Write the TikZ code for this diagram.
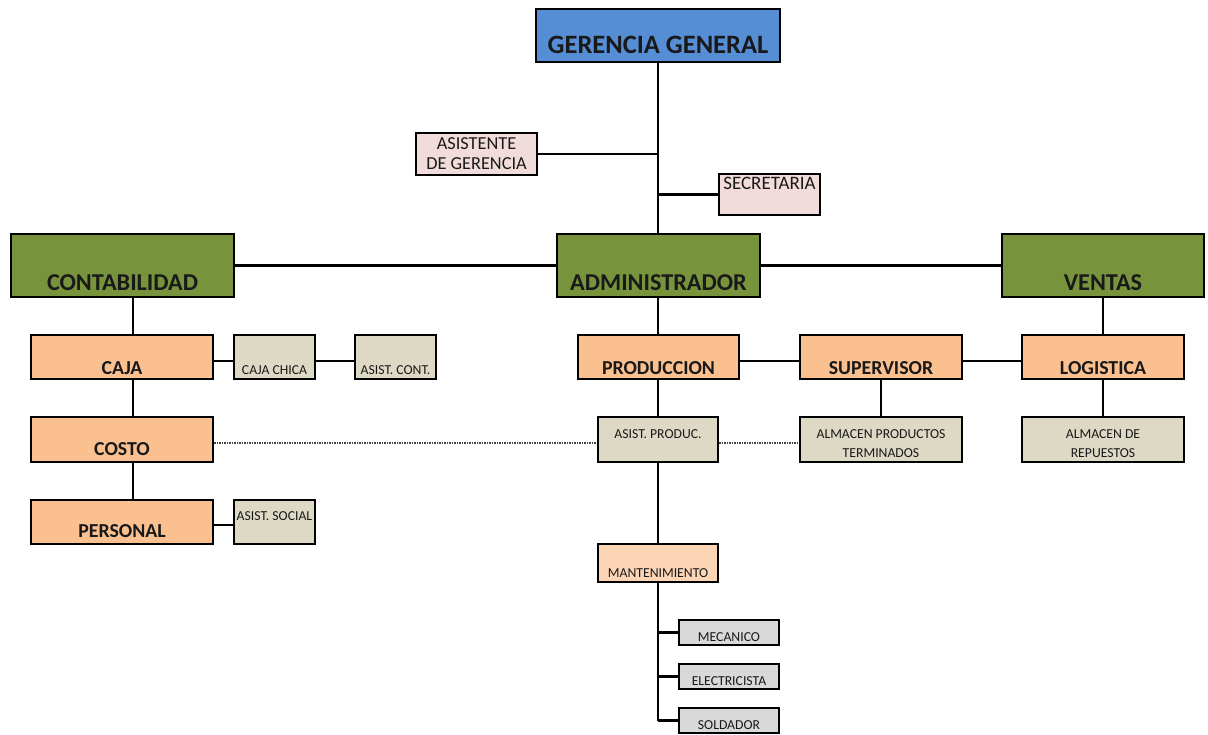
\documentclass[tikz,border=0pt]{standalone}
\usepackage{fontspec}
\setmainfont{Carlito}
\definecolor{cblue}{HTML}{558ED5}
\definecolor{cpink}{HTML}{F2DCDB}
\definecolor{cgreen}{HTML}{77933C}
\definecolor{corange}{HTML}{FAC090}
\definecolor{ctan}{HTML}{DDD9C4}
\definecolor{clight}{HTML}{FCD5B5}
\definecolor{cgray}{HTML}{D9D9D9}
\tikzset{
  box/.style={draw=black, line width=2.8pt, inner sep=0pt, rectangle},
  sbox/.style={draw=black, line width=2.3pt, inner sep=0pt, rectangle},
  conn/.style={draw=black, line width=2.3pt},
  dotconn/.style={draw=black!75, line width=1.2pt, dash pattern=on 1.5pt off 1pt},
  lbl/.style={anchor=base, inner sep=0pt, text=black!90},
  big/.style={lbl, font=\fontsize{26.5}{30}\selectfont\bfseries},
  head/.style={lbl, font=\fontsize{24.2}{28}\selectfont\bfseries},
  mid/.style={lbl, font=\fontsize{19.8}{23}\selectfont\bfseries},
  reg/.style={lbl, font=\fontsize{18.3}{21}\selectfont},
  small/.style={lbl, font=\fontsize{13.7}{16}\selectfont},
}
\begin{document}
\begin{tikzpicture}[x=1pt,y=-1pt]
\useasboundingbox (0,0) rectangle (1208,734);
% boxes
\node[box, fill=cblue, minimum width=244pt, minimum height=53pt] (gg) at (658,35.5) {};
\node[sbox, fill=cpink, minimum width=121pt, minimum height=42pt] (asg) at (476.5,154) {};
\node[sbox, fill=cpink, minimum width=101pt, minimum height=41pt] (sec) at (769.5,194.5) {};
\node[box, fill=cgreen, minimum width=223pt, minimum height=63pt] (cont) at (122.5,265.5) {};
\node[box, fill=cgreen, minimum width=203pt, minimum height=63pt] (adm) at (658.5,265.5) {};
\node[box, fill=cgreen, minimum width=202pt, minimum height=63pt] (ven) at (1103,265.5) {};
\node[box, fill=corange, minimum width=182pt, minimum height=44pt] (caja) at (122,357) {};
\node[sbox, fill=ctan, minimum width=81pt, minimum height=44pt] (cch) at (274.5,357) {};
\node[sbox, fill=ctan, minimum width=81pt, minimum height=44pt] (acont) at (395.5,357) {};
\node[box, fill=corange, minimum width=182pt, minimum height=45pt] (costo) at (122,439.5) {};
\node[box, fill=corange, minimum width=182pt, minimum height=44pt] (pers) at (122,522) {};
\node[sbox, fill=ctan, minimum width=81pt, minimum height=44pt] (asoc) at (274.5,522) {};
\node[box, fill=corange, minimum width=161pt, minimum height=44pt] (prod) at (658.5,357) {};
\node[box, fill=corange, minimum width=162pt, minimum height=44pt] (sup) at (881,357) {};
\node[box, fill=corange, minimum width=162pt, minimum height=44pt] (log) at (1103,357) {};
\node[sbox, fill=ctan, minimum width=120pt, minimum height=45pt] (aprod) at (658,439.5) {};
\node[sbox, fill=ctan, minimum width=162pt, minimum height=45pt] (apt) at (881,439.5) {};
\node[sbox, fill=ctan, minimum width=162pt, minimum height=45pt] (arep) at (1103,439.5) {};
\node[sbox, fill=clight, minimum width=120pt, minimum height=38pt] (mant) at (658,563) {};
\node[sbox, fill=cgray, minimum width=100pt, minimum height=25pt] (mec) at (729,632.5) {};
\node[sbox, fill=cgray, minimum width=100pt, minimum height=25pt] (ele) at (729,676.5) {};
\node[sbox, fill=cgray, minimum width=100pt, minimum height=25pt] (sol) at (729,720.5) {};
% labels
\node[big] (tgg) at (658,53) {GERENCIA GENERAL};
\node[reg] (tasg1) at (476.5,149) {ASISTENTE};
\node[reg] (tasg2) at (476.5,169) {DE GERENCIA};
\node[reg, font=\fontsize{19}{22}\selectfont] (tsec) at (769.5,189) {SECRETARIA};
\node[head] (tcont) at (122.5,290) {CONTABILIDAD};
\node[head] (tadm) at (658.5,290) {ADMINISTRADOR};
\node[head] (tven) at (1103,290) {VENTAS};
\node[mid] (tcaja) at (122,374) {CAJA};
\node[small] (tcch) at (274.5,374) {CAJA CHICA};
\node[small] (tacont) at (395.5,374) {ASIST. CONT.};
\node[mid] (tcosto) at (122,455) {COSTO};
\node[mid] (tpers) at (122,537) {PERSONAL};
\node[small] (tasoc) at (274.5,520) {ASIST. SOCIAL};
\node[mid] (tprod) at (658.5,374) {PRODUCCION};
\node[mid] (tsup) at (881,374) {SUPERVISOR};
\node[mid] (tlog) at (1103,374) {LOGISTICA};
\node[small] (taprod) at (658,438) {ASIST. PRODUC.};
\node[small] (tapt1) at (881,438) {ALMACEN PRODUCTOS};
\node[small] (tapt2) at (881,457) {TERMINADOS};
\node[small] (tarep1) at (1103,438) {ALMACEN DE};
\node[small] (tarep2) at (1103,457) {REPUESTOS};
\node[small] (tmant) at (658,577) {MANTENIMIENTO};
\node[small] (tmec) at (729,641) {MECANICO};
\node[small] (tele) at (729,685) {ELECTRICISTA};
\node[small] (tsol) at (729,729) {SOLDADOR};
% connectors
\draw[conn] (gg.south) -- (gg.south |- adm.north);
\draw[conn] (asg.east) -- (asg.east -| gg.south);
\draw[conn] (sec.west) -- (sec.west -| gg.south);
\draw[conn] (cont.east) -- (adm.west);
\draw[conn] (adm.east) -- (ven.west);
\draw[conn] ([xshift=11pt]caja.north) -- ([xshift=11pt]caja.north |- cont.south);
\draw[conn] ([xshift=11pt]caja.south) -- ([xshift=11pt]costo.north);
\draw[conn] ([xshift=11pt]costo.south) -- ([xshift=11pt]pers.north);
\draw[conn] ([yshift=-4pt]caja.east) -- ([yshift=-4pt]cch.west);
\draw[conn] ([yshift=-4pt]cch.east) -- ([yshift=-4pt]acont.west);
\draw[conn] ([yshift=-3pt]pers.east) -- ([yshift=-3pt]asoc.west);
\draw[conn] (prod.north -| gg.south) -- (adm.south -| gg.south);
\draw[conn] ([yshift=-4pt]prod.east) -- ([yshift=-4pt]sup.west);
\draw[conn] ([yshift=-4pt]sup.east) -- ([yshift=-4pt]log.west);
\draw[conn] (ven.south) -- (log.north);
\draw[conn] (prod.south -| aprod.north) -- (aprod.north);
\draw[conn] (sup.south) -- (apt.north);
\draw[conn] (log.south) -- (arep.north);
\draw[dotconn] ([yshift=-3.5pt]costo.east) -- ([yshift=-3.5pt]aprod.west);
\draw[dotconn] ([yshift=-3.5pt]aprod.east) -- ([yshift=-3.5pt]apt.west);
\draw[conn] (aprod.south) -- (mant.north);
\draw[conn] (mant.south) -- (mant.south |- sol.west);
\draw[conn] (mant.south |- mec.west) -- (mec.west);
\draw[conn] (mant.south |- ele.west) -- (ele.west);
\draw[conn] (mant.south |- sol.west) -- (sol.west);
\end{tikzpicture}
\end{document}
